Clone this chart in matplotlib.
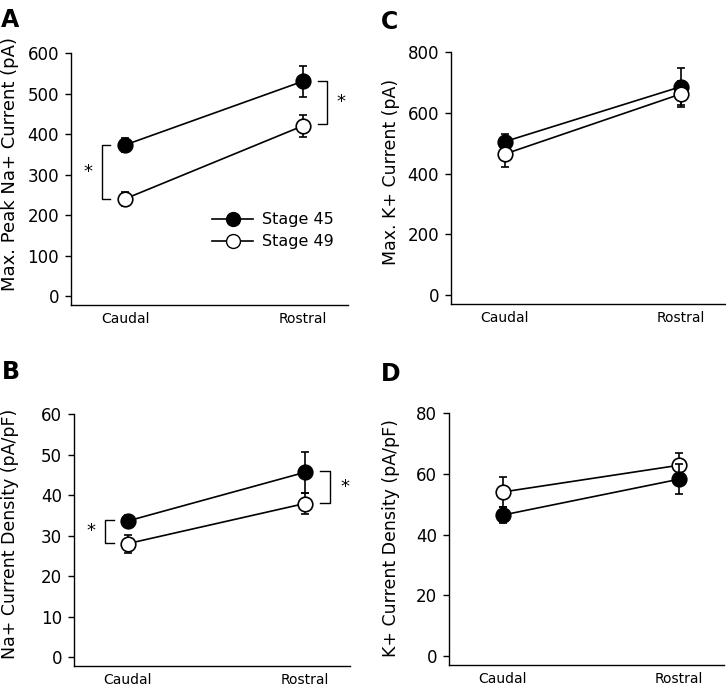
import matplotlib
matplotlib.use("Agg")
import matplotlib.pyplot as plt
from matplotlib.lines import Line2D
import numpy as np

# data (mean, sem)
regions = ["Caudal", "Rostral"]
stages = ["Stage 45", "Stage 49"]

na_peak_45 = [373, 530]
na_peak_45_err = [18, 38]
na_peak_49 = [240, 420]
na_peak_49_err = [18, 28]

na_dens_45 = [33.6, 45.6]
na_dens_45_err = [1.5, 5.0]
na_dens_49 = [28.0, 37.9]
na_dens_49_err = [2.2, 2.5]

k_max_45 = [505, 686]
k_max_45_err = [25, 62]
k_max_49 = [464, 662]
k_max_49_err = [41, 42]

k_dens_45 = [46.4, 58.2]
k_dens_45_err = [2.5, 5.0]
k_dens_49 = [54.0, 62.8]
k_dens_49_err = [5.0, 4.0]

plt.rcParams['font.family'] = ['DejaVu Sans']

W, H = 726, 686
fig = plt.figure(figsize=(W / 100, H / 100), dpi=100)

def px_axes(left, right, top, bottom):
    return fig.add_axes([left / W, 1 - bottom / H, (right - left) / W, (bottom - top) / H])

axA = px_axes(71, 348, 53, 305)
axC = px_axes(451, 726, 52, 304)
axB = px_axes(74, 350, 414, 666)
axD = px_axes(449, 724, 413, 665)

x = np.arange(len(regions))

def panel(ax, m45, e45, m49, e49, ymax, ystep, ylabel, on_top49=True,
          lab_y=0.5, lab_x=None, lab_size=12.5):
    z45, z49 = (3, 4) if on_top49 else (4, 3)
    ax.errorbar(x, m45, yerr=e45, color='black', lw=1.2, marker='o', ms=10.5,
                mfc='black', mec='black', mew=1.2, capsize=3, elinewidth=1.2,
                capthick=1.2, zorder=z45)
    ax.errorbar(x, m49, yerr=e49, color='black', lw=1.2, marker='o', ms=10.5,
                mfc='white', mec='black', mew=1.2, capsize=3, elinewidth=1.2,
                capthick=1.2, zorder=z49)
    ax.set_xlim(-0.305, 1.255)
    ax.set_ylim(-ymax * 0.037, ymax)
    ax.set_yticks(np.arange(0, ymax + 1e-9, ystep))
    ax.set_xticks(x)
    ax.set_xticklabels(regions, fontsize=10)
    ax.tick_params(axis='x', length=0, pad=5)
    ax.tick_params(axis='y', direction='out', length=4.5, width=1.0, labelsize=12, pad=4)
    for s in ['top', 'right']:
        ax.spines[s].set_visible(False)
    ax.spines['left'].set_bounds(-ymax * 0.037, ymax)
    ax.spines['left'].set_linewidth(1.0)
    ax.spines['bottom'].set_linewidth(1.0)
    ax.set_ylabel(ylabel, fontsize=lab_size)
    # lab_x: right edge of the rotated label, in figure pixels
    pos = ax.get_position()
    ax.yaxis.set_label_coords((lab_x - pos.x0 * W) / (pos.width * W), lab_y)

def bracket(ax, xb, xt, y1, y2, xs):
    ax.plot([xt, xb, xb, xt], [y1, y1, y2, y2], color='black', lw=1.0, clip_on=False)
    ax.text(xs, (y1 + y2) / 2, '*', ha='center', va='center', fontsize=13)

panel(axA, na_peak_45, na_peak_45_err, na_peak_49, na_peak_49_err, 600, 100,
      "Max. Peak Na+ Current (pA)", lab_y=0.56, lab_x=19, lab_size=13)
bracket(axA, -0.13, -0.084, na_peak_45[0], na_peak_49[0], -0.21)
bracket(axA, 1.135, 1.084, na_peak_45[1] + 2, na_peak_49[1] + 5, 1.213)
handles = [Line2D([], [], color='black', lw=1.2, marker='o', ms=10, mfc='black', mec='black'),
           Line2D([], [], color='black', lw=1.2, marker='o', ms=10, mfc='white', mec='black')]
axA.legend(handles, stages, loc='upper left', bbox_to_anchor=(0.48, 0.40), frameon=False,
           fontsize=11.5, handlelength=2.6, handletextpad=0.55, labelspacing=0.45,
           borderpad=0)

panel(axB, na_dens_45, na_dens_45_err, na_dens_49, na_dens_49_err, 60, 10,
      "Na+ Current Density (pA/pF)", lab_y=0.526, lab_x=19)
bracket(axB, -0.129, -0.080, na_dens_45[0] + 0.3, na_dens_49[0] + 0.2, -0.21)
bracket(axB, 1.14, 1.087, na_dens_45[1] + 0.3, na_dens_49[1] + 0.2, 1.225)

panel(axC, k_max_45, k_max_45_err, k_max_49, k_max_49_err, 800, 200,
      "Max. K+ Current (pA)", lab_y=0.526, lab_x=400)
panel(axD, k_dens_45, k_dens_45_err, k_dens_49, k_dens_49_err, 80, 20,
      "K+ Current Density (pA/pF)", on_top49=False, lab_y=0.502, lab_x=400)

for lab, xp, yp in [("A", 1, 8), ("C", 381, 10), ("B", 2, 360), ("D", 381, 362)]:
    fig.text(xp / W, 1 - yp / H, lab, fontsize=17, fontweight='bold', ha='left', va='top')

fig.savefig("out.png", dpi=100)
